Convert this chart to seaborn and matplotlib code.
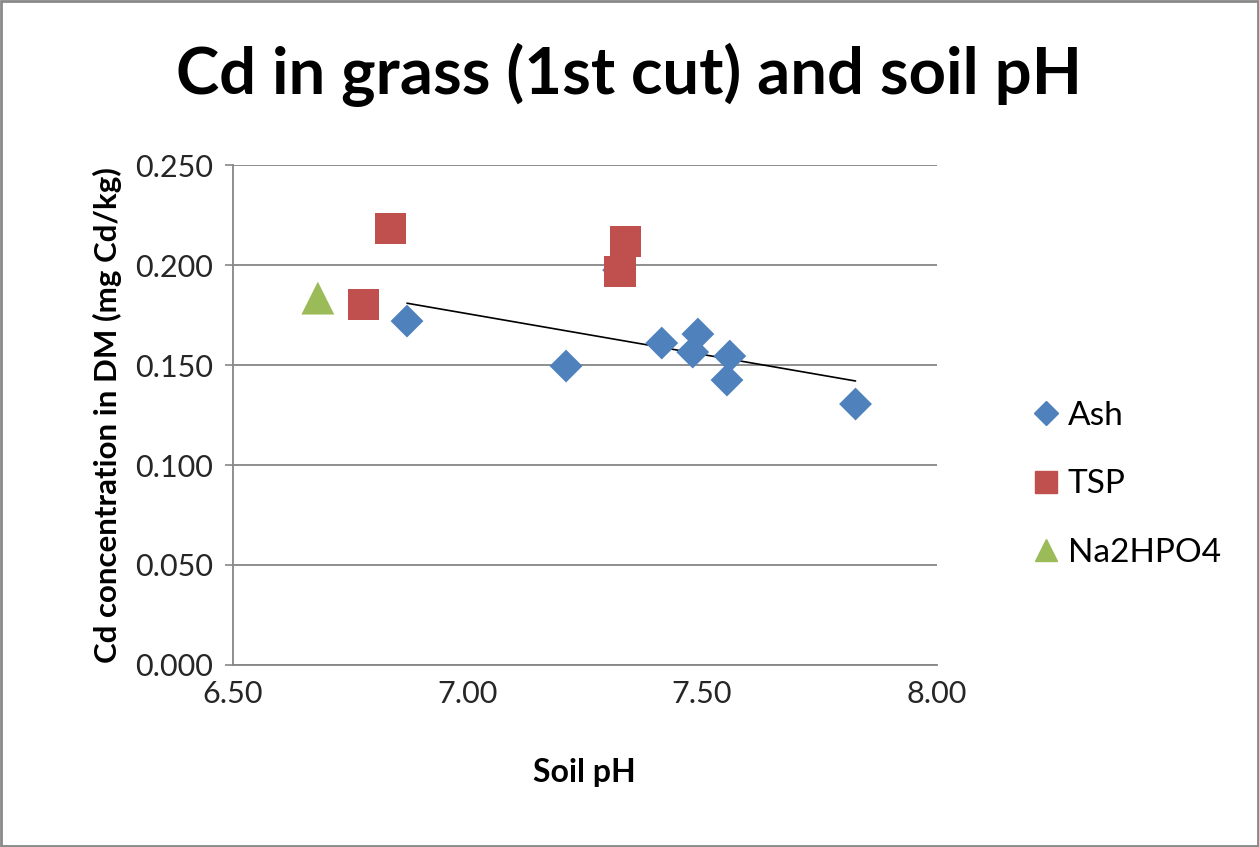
import numpy as np
import pandas as pd
import matplotlib
matplotlib.use('Agg')
import matplotlib.pyplot as plt
import seaborn as sns
from matplotlib.patches import Rectangle
from matplotlib.lines import Line2D

# Data
ash_ph = [6.871, 7.210, 7.414, 7.491, 7.480, 7.559, 7.553, 7.827, 7.322]
ash_cd = [0.1720, 0.1495, 0.1610, 0.1655, 0.1565, 0.1545, 0.1425, 0.1305, 0.1975]
tsp_ph = [6.835, 6.779, 7.337, 7.325]
tsp_cd = [0.2185, 0.1805, 0.2120, 0.1970]
na_ph = [6.681]
na_cd = [0.1835]

SERIES = ['Ash', 'TSP', 'Na2HPO4']
COLORS = {'Ash': '#4F81BD', 'TSP': '#C0504D', 'Na2HPO4': '#9BBB59'}
MARKERS = {'Ash': 'D', 'TSP': 's', 'Na2HPO4': '^'}
SIZES = {'Ash': 280, 'TSP': 500, 'Na2HPO4': 560}

df = pd.concat([
    pd.DataFrame({'ph': ash_ph, 'cd': ash_cd, 'series': 'Ash'}),
    pd.DataFrame({'ph': tsp_ph, 'cd': tsp_cd, 'series': 'TSP'}),
    pd.DataFrame({'ph': na_ph, 'cd': na_cd, 'series': 'Na2HPO4'}),
], ignore_index=True)

sns.set_theme(style='white')
plt.rcParams['font.family'] = ['Lato', 'DejaVu Sans']
plt.rcParams['text.color'] = 'black'
plt.rcParams['axes.labelcolor'] = 'black'
plt.rcParams['xtick.color'] = 'black'
plt.rcParams['ytick.color'] = 'black'

fig = plt.figure(figsize=(12.59, 8.47), dpi=100)
ax = fig.add_axes([0.185, 0.215, 0.559, 0.59])

# linear trendline on Ash only
sns.regplot(data=df[df['series'] == 'Ash'], x='ph', y='cd', ax=ax,
            scatter=False, ci=None, truncate=True,
            line_kws={'color': 'black', 'lw': 1.2, 'zorder': 2})

for s in SERIES:
    sns.scatterplot(data=df[df['series'] == s], x='ph', y='cd', ax=ax,
                    color=COLORS[s], marker=MARKERS[s], s=SIZES[s],
                    edgecolor='none', linewidth=0, zorder=3, legend=False)

ax.set_xlim(6.5, 8.0)
ax.set_ylim(0, 0.25)
ax.set_xticks([6.5, 7.0, 7.5, 8.0])
ax.set_yticks(np.arange(0, 0.2501, 0.05))
ax.set_xticklabels([f'{v:.2f}' for v in [6.5, 7.0, 7.5, 8.0]], fontsize=22)
ax.set_yticklabels([f'{v:.3f}' for v in np.arange(0, 0.2501, 0.05)], fontsize=22)
ax.tick_params(axis='x', length=0, pad=11, colors='#262626')
ax.tick_params(axis='y', length=6, width=1.2, color='#868686', labelcolor='#262626',
               direction='out', left=True, pad=8)
ax.yaxis.grid(True, color='#868686', lw=1.3)
ax.xaxis.grid(False)
for side in ['top', 'right']:
    ax.spines[side].set_visible(False)
for side in ['left', 'bottom']:
    ax.spines[side].set_color('#868686')
    ax.spines[side].set_linewidth(1.3)

ax.set_xlabel('Soil pH', fontsize=23, fontweight='bold', labelpad=36)
ax.set_ylabel('Cd concentration in DM (mg Cd/kg)', fontsize=22.5, fontweight='bold', labelpad=10)
fig.suptitle('Cd in grass (1st cut) and soil pH', fontsize=47, fontweight='bold', y=0.95)

handles = [Line2D([], [], ls='none', marker=MARKERS[s], color=COLORS[s],
                  markersize={'Ash': 12, 'TSP': 16, 'Na2HPO4': 16}[s]) for s in SERIES]
fig.legend(handles, SERIES, loc='center left', bbox_to_anchor=(0.794, 0.428),
           frameon=False, fontsize=24, handletextpad=0.15, labelspacing=1.15,
           handlelength=1.0)

fig.add_artist(Rectangle((0.001, 0.001), 0.998, 0.998, transform=fig.transFigure,
                         fill=False, edgecolor='#898989', lw=2))

fig.savefig('out.png', dpi=100)
